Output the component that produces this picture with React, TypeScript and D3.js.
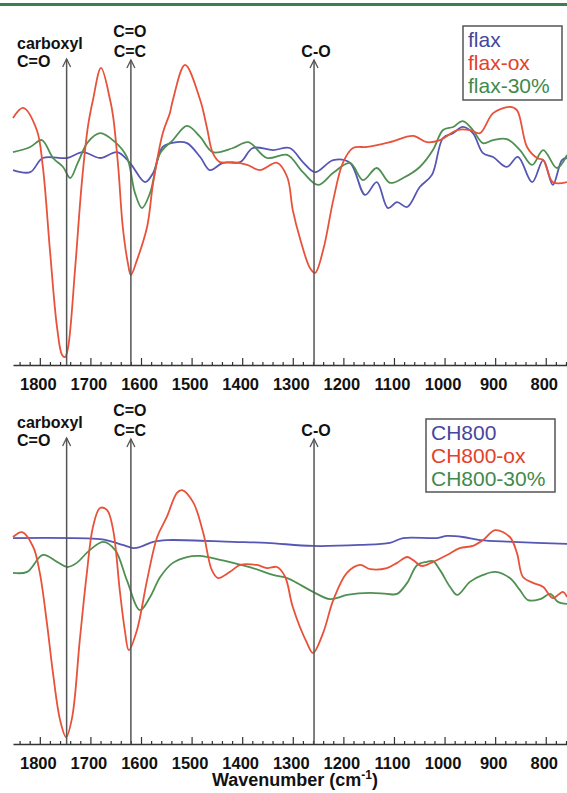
import React, { useRef, useEffect } from 'react';
import * as d3 from 'd3';

// wavenumber (cm-1), intensity (a.u.)
const flax = [
  [1853, 56.5], [1819, 55.9], [1794, 60.0], [1746, 60.0], [1715, 61.7], [1681, 60.0], [1647, 61.7],
  [1622, 58.6], [1592, 53.0], [1576, 55.7], [1557, 63.2], [1529, 64.6], [1509, 64.3], [1483, 60.3],
  [1464, 56.5], [1438, 58.6], [1404, 58.8], [1379, 62.9], [1339, 62.3], [1306, 62.9], [1280, 58.8],
  [1256, 55.9], [1220, 59.4], [1187, 58.6], [1157, 49.3], [1134, 53.0], [1112, 45.5], [1094, 47.2],
  [1074, 45.8], [1049, 51.6], [1025, 55.1], [1003, 65.8], [983, 67.2], [964, 69.0], [944, 67.2],
  [924, 61.4], [904, 60.3], [877, 57.4], [855, 60.3], [827, 53.0], [805, 59.4], [786, 52.2],
  [768, 59.4], [758, 60.0],
];

const flaxOx = [
  [1853, 71.6], [1833, 74.5], [1806, 68.1], [1794, 57.4], [1780, 33.3], [1766, 11.0], [1756, 2.9],
  [1750, 2.3], [1744, 5.2], [1730, 28.4], [1717, 52.8], [1705, 69.0], [1695, 76.8], [1679, 86.1],
  [1661, 76.8], [1655, 71.9], [1645, 57.4], [1636, 40.0], [1626, 29.6], [1620, 26.1], [1608, 30.4],
  [1588, 40.0], [1576, 52.8], [1557, 67.2], [1543, 73.0], [1537, 76.8], [1513, 87.0], [1483, 76.8],
  [1470, 69.0], [1458, 61.4], [1444, 58.8], [1418, 58.8], [1390, 58.0], [1365, 56.5], [1331, 58.6],
  [1311, 54.5], [1300, 44.9], [1286, 36.8], [1266, 28.1], [1256, 26.7], [1240, 33.3], [1220, 47.8],
  [1201, 58.6], [1181, 62.9], [1153, 63.2], [1108, 64.6], [1062, 66.4], [1035, 64.6], [1009, 65.2],
  [975, 68.1], [950, 68.1], [930, 67.2], [904, 73.0], [871, 74.8], [857, 73.9], [837, 63.2],
  [817, 60.0], [805, 59.4], [786, 53.0], [758, 53.0],
];

const flax30 = [
  [1853, 61.7], [1819, 63.2], [1796, 65.2], [1774, 60.0], [1754, 57.4], [1740, 54.2], [1725, 58.6],
  [1705, 64.6], [1681, 67.2], [1651, 64.6], [1628, 60.3], [1612, 49.9], [1598, 45.5], [1582, 49.9],
  [1562, 61.4], [1537, 65.2], [1509, 69.3], [1483, 66.1], [1458, 61.7], [1418, 62.9], [1388, 64.6],
  [1351, 60.0], [1311, 60.9], [1280, 55.9], [1250, 52.2], [1220, 55.7], [1187, 58.6], [1161, 53.6],
  [1134, 57.1], [1108, 52.8], [1082, 54.2], [1049, 57.4], [1023, 62.3], [1003, 68.1], [983, 69.0],
  [964, 70.7], [944, 68.1], [924, 64.3], [904, 65.2], [877, 65.5], [851, 62.3], [827, 58.0],
  [805, 62.3], [778, 57.1], [758, 60.9],
];

const ch800 = [
  [1853, 59.7], [1681, 59.4], [1661, 58.8], [1636, 57.7], [1616, 56.8], [1602, 57.1], [1576, 58.6],
  [1549, 59.1], [1418, 58.6], [1351, 58.3], [1260, 57.4], [1167, 57.7], [1108, 58.3], [1082, 59.7],
  [1015, 59.7], [995, 60.3], [964, 60.0], [930, 59.1], [865, 58.6], [758, 58.0],
];

const ch800Ox = [
  [1853, 60.0], [1835, 61.4], [1813, 57.1], [1800, 49.6], [1786, 35.1], [1774, 20.6], [1760, 7.0],
  [1748, 2.0], [1736, 7.8], [1721, 30.1], [1707, 49.6], [1695, 62.9], [1681, 68.4], [1667, 67.8],
  [1655, 62.0], [1642, 44.6], [1632, 33.0], [1624, 27.2], [1608, 33.0], [1588, 47.5], [1568, 60.0],
  [1549, 65.8], [1529, 72.8], [1519, 73.6], [1497, 70.1], [1477, 61.2], [1460, 50.4], [1448, 48.1],
  [1424, 49.9], [1404, 51.9], [1371, 51.9], [1351, 51.0], [1331, 51.3], [1315, 48.4], [1300, 39.7],
  [1272, 29.3], [1260, 26.4], [1240, 32.2], [1220, 41.7], [1193, 49.6], [1167, 51.9], [1147, 50.7],
  [1114, 51.0], [1094, 52.5], [1074, 54.2], [1062, 53.3], [1045, 51.6], [1023, 52.8], [995, 54.8],
  [970, 56.8], [944, 57.4], [924, 59.1], [900, 62.0], [871, 60.0], [857, 55.4], [845, 48.4],
  [825, 46.7], [805, 45.5], [786, 42.3], [766, 44.1], [758, 42.6],
];

const ch80030 = [
  [1853, 49.6], [1825, 49.9], [1794, 54.8], [1766, 52.8], [1746, 51.3], [1727, 52.5], [1705, 55.7],
  [1675, 58.6], [1651, 56.2], [1628, 47.5], [1602, 38.8], [1582, 42.6], [1562, 48.4], [1537, 52.5],
  [1509, 54.2], [1483, 54.5], [1450, 53.6], [1418, 52.5], [1379, 51.0], [1339, 49.0], [1311, 48.1],
  [1292, 46.7], [1260, 44.1], [1226, 42.0], [1193, 43.2], [1147, 43.8], [1114, 43.5], [1094, 43.5],
  [1074, 46.7], [1054, 51.9], [1035, 52.8], [1023, 53.0], [1009, 50.4], [989, 45.5], [975, 43.2],
  [950, 47.0], [924, 49.0], [900, 49.9], [871, 48.1], [851, 44.6], [835, 41.7], [811, 42.0],
  [791, 43.5], [776, 41.2], [758, 40.6],
];

const majorTicks = [1800, 1700, 1600, 1500, 1400, 1300, 1200, 1100, 1000, 900, 800];
const bandWaves = [1747, 1620, 1258];
const topNames = ['flax', 'flax-ox', 'flax-30%'];
const bottomNames = ['CH800', 'CH800-ox', 'CH800-30%'];

const lineColors = ['#5656b4', '#e8523a', '#4f9052'];
const textColors = ['#45479c', '#e4402a', '#3f8a4d'];
const FONT = '"Liberation Sans", Arial, Helvetica, sans-serif';

const App = () => {
  const chartRef = useRef(null);

  useEffect(() => {
    const { current: chartDOM } = chartRef;
    renderChart(chartDOM);
  });

  const renderChart = chartDOM => {
    if (!chartDOM) return;
    const svg = d3.select(chartDOM);
    svg.selectAll('*').remove();

    // header rule
    svg.append('rect').attr('x', 0).attr('y', 3).attr('width', 567).attr('height', 3).attr('fill', '#3d7d4e');

    const x = d3.scaleLinear().domain([1853, 758]).range([13, 567]);
    const minorTicks = d3.range(1840, 750, -20).filter(d => d % 100 !== 0);

    const panels = [
      { axisY: 365, series: [flax, flax30, flaxOx], names: topNames, box: { x: 463, y: 26, w: 99, h: 74 } },
      { axisY: 744, series: [ch800, ch80030, ch800Ox], names: bottomNames, box: { x: 426, y: 419, w: 129, h: 73 } },
    ];
    const seriesColor = [lineColors[0], lineColors[2], lineColors[1]];

    panels.forEach(p => {
      const y = d3.scaleLinear().domain([0, 100]).range([p.axisY, p.axisY - 345]);
      const g = svg.append('g');

      const line = d3
        .line()
        .x(d => x(d[0]))
        .y(d => y(d[1]))
        .curve(d3.curveCatmullRom.alpha(0.5));

      p.series.forEach((s, i) => {
        g.append('path')
          .attr('d', line(s))
          .attr('fill', 'none')
          .attr('stroke', seriesColor[i])
          .attr('stroke-width', 1.8)
          .attr('stroke-linejoin', 'round');
      });

      // axis
      const minor = g.append('g').attr('transform', 'translate(0,' + p.axisY + ')')
        .call(d3.axisBottom(x).tickValues(minorTicks).tickSize(-3).tickSizeOuter(0).tickFormat(() => ''));
      minor.select('.domain').remove();
      minor.selectAll('line').attr('stroke', '#333').attr('stroke-width', 1.2);

      const major = g.append('g').attr('transform', 'translate(0,' + p.axisY + ')')
        .call(d3.axisBottom(x).tickValues(majorTicks).tickSize(-7).tickSizeOuter(0).tickPadding(13).tickFormat(d3.format('d')));
      major.select('.domain').attr('stroke', '#333').attr('stroke-width', 1.5);
      major.selectAll('line').attr('stroke', '#333').attr('stroke-width', 1.2);
      major.selectAll('text')
        .attr('fill', '#111')
        .attr('font-family', FONT)
        .attr('font-size', 16.5)
        .attr('font-weight', 'bold')
        .attr('dx', '-2');

      // band markers
      const tips = [p.axisY - 306, p.axisY - 305, p.axisY - 305];
      bandWaves.forEach((w, i) => {
        const bx = x(w);
        g.append('line').attr('x1', bx).attr('x2', bx).attr('y1', tips[i]).attr('y2', p.axisY)
          .attr('stroke', '#555').attr('stroke-width', 1.5);
        g.append('path')
          .attr('d', `M${bx - 4},${tips[i] + 8}L${bx},${tips[i]}L${bx + 4},${tips[i] + 8}`)
          .attr('fill', 'none').attr('stroke', '#555').attr('stroke-width', 1.3);
      });

      const label = (tx, ty, t, anchor) =>
        g.append('text').attr('x', tx).attr('y', ty).attr('text-anchor', anchor)
          .attr('font-family', FONT).attr('font-size', 16).attr('font-weight', 'bold').attr('fill', '#111').text(t);
      label(17, p.axisY - 316, 'carboxyl', 'start');
      label(17, p.axisY - 298, 'C=O', 'start');
      label(x(bandWaves[1]) - 1, p.axisY - 328, 'C=O', 'middle');
      label(x(bandWaves[1]) - 1, p.axisY - 308, 'C=C', 'middle');
      label(x(bandWaves[2]) + 2, p.axisY - 308, 'C-O', 'middle');

      // legend
      g.append('rect').attr('x', p.box.x).attr('y', p.box.y).attr('width', p.box.w).attr('height', p.box.h)
        .attr('fill', 'white').attr('stroke', '#555').attr('stroke-width', 1.5);
      p.names.forEach((n, i) => {
        g.append('text').attr('x', p.box.x + 5).attr('y', p.box.y + 21 + i * 23)
          .attr('font-family', FONT).attr('font-size', 21).attr('fill', textColors[i]).text(n);
      });
    });

    const title = svg.append('text').attr('x', 295).attr('y', 786).attr('text-anchor', 'middle')
      .attr('font-family', FONT).attr('font-size', 18).attr('font-weight', 'bold').attr('fill', '#111');
    title.append('tspan').text('Wavenumber (cm');
    title.append('tspan').attr('dy', -7).attr('font-size', 12).text('-1');
    title.append('tspan').attr('dy', 7).text(')');
  };

  return (
    <div style={{ position: 'absolute', left: 0, top: 0 }}>
      <svg ref={chartRef} width="567" height="793" style={{ display: 'block', background: '#fff' }} />
    </div>
  );
};

export default App;
